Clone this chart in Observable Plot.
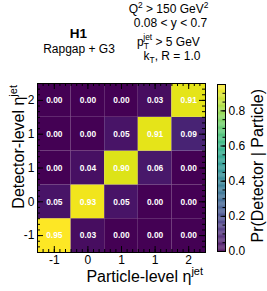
<!DOCTYPE html>
<html><head><meta charset="utf-8">
<script src="https://cdn.jsdelivr.net/npm/d3@7"></script>
<script src="https://cdn.jsdelivr.net/npm/@observablehq/plot@0.6"></script>
<style>
html,body{margin:0;padding:0;background:#fff;}
#wrap{position:relative;width:267px;height:291px;font-family:"Liberation Sans",Arial,Helvetica,sans-serif;}
#wrap svg{position:absolute;left:0;top:0;}
</style></head>
<body><div id="wrap"></div>
<script>
// ---- data ----
const particleLabels = ["-1", "0", "1", "1", "2"];   // x tick labels (particle-level eta bins)
const detectorLabels = ["-1", "0", "1", "1", "2"];   // y tick labels (detector-level eta bins, bottom to top)
// rows: detector bin (bottom -> top), columns: particle bin (left -> right)
const row0 = [0.95, 0.03, 0.00, 0.00, 0.00];
const row1 = [0.05, 0.93, 0.05, 0.00, 0.00];
const row2 = [0.00, 0.04, 0.90, 0.06, 0.00];
const row3 = [0.00, 0.00, 0.05, 0.91, 0.09];
const row4 = [0.00, 0.00, 0.00, 0.03, 0.91];
const colorTicks = [0, 0.2, 0.4, 0.6, 0.8];
const colorMax = 0.95;
const headerLeft = ["H1", "Rapgap + G3"];

// ---- build ----
const rows = [row0, row1, row2, row3, row4];
const cells = rows.flatMap((r, j) => r.map((v, i) => ({px: i, dt: j, v})));
const nx = particleLabels.length, ny = detectorLabels.length;
const xCenters = particleLabels.map((_, i) => i + 0.5);
const yCenters = detectorLabels.map((_, i) => i + 0.5);
const xMinor = d3.range(0, nx * 6 + 1).map(k => k / 6);
const yMinor = d3.range(0, ny * 6 + 1).map(k => k / 6);

const W = 267, H = 291;
const mT = 83, mB = 39, mL = 37, mR = 62;
const iw = W - mL - mR, ih = H - mT - mB;
const font = "Liberation Sans, Arial, Helvetica, sans-serif";
const majorLen = 6, minorLen = 3;

const color = {type: "linear", scheme: "viridis", domain: [0, colorMax]};

const main = Plot.plot({
  width: W, height: H,
  marginTop: mT, marginBottom: mB, marginLeft: mL, marginRight: mR,
  style: {fontFamily: font, fontSize: "12px", background: "white", color: "black"},
  x: {domain: [0, nx]},
  y: {domain: [0, ny]},
  color,
  marks: [
    Plot.rect(cells, {x1: "px", x2: d => d.px + 1, y1: "dt", y2: d => d.dt + 1, fill: "v", inset: 0}),
    Plot.text(cells, {x: d => d.px + 0.5, y: d => d.dt + 0.5, text: d => d.v.toFixed(2),
      fill: "white", fontWeight: "bold", fontSize: 8.4}),
    // ticks inside the frame (all four sides)
    Plot.tickX(xMinor, {x: d => d, insetTop: ih - minorLen, stroke: "black"}),
    Plot.tickX(xMinor, {x: d => d, insetBottom: ih - minorLen, stroke: "black"}),
    Plot.tickX(xCenters, {x: d => d, insetTop: ih - majorLen, stroke: "black"}),
    Plot.tickX(xCenters, {x: d => d, insetBottom: ih - majorLen, stroke: "black"}),
    Plot.tickY(yMinor, {y: d => d, insetRight: iw - minorLen, stroke: "black"}),
    Plot.tickY(yMinor, {y: d => d, insetLeft: iw - minorLen, stroke: "black"}),
    Plot.tickY(yCenters, {y: d => d, insetRight: iw - majorLen, stroke: "black"}),
    Plot.tickY(yCenters, {y: d => d, insetLeft: iw - majorLen, stroke: "black"}),
    Plot.axisX({ticks: xCenters, tickFormat: d => particleLabels[Math.floor(d)], tickSize: 0, tickPadding: 3, label: null, fontSize: 12}),
    Plot.axisY({ticks: yCenters, tickFormat: d => detectorLabels[Math.floor(d)], tickSize: 0, tickPadding: 3, label: null, fontSize: 12}),
    Plot.frame({stroke: "black", strokeWidth: 1})
  ]
});

// colour bar
const cbT = 84, cbB = 40, cbL = 217, cbR = 42;
const cbW = W - cbL - cbR;
const step = colorMax / 190;
const slices = d3.range(0, 190).map(k => ({y1: k * step, y2: (k + 1) * step, v: (k + 0.5) * step}));
const cbMinor = d3.range(0, 20).map(k => k * 0.05).filter(v => v <= colorMax);
const cbar = Plot.plot({
  width: W, height: H,
  marginTop: cbT, marginBottom: cbB, marginLeft: cbL, marginRight: cbR,
  style: {fontFamily: font, fontSize: "12px", background: "none", color: "black"},
  y: {domain: [0, colorMax]},
  color,
  marks: [
    Plot.rect(slices, {y1: "y1", y2: "y2", fill: "v", inset: 0}),
    Plot.tickY(cbMinor, {y: d => d, insetLeft: cbW - 2.5, stroke: "black"}),
    Plot.tickY(colorTicks, {y: d => d, insetLeft: cbW - 4.5, stroke: "black"}),
    Plot.axisY({anchor: "right", ticks: colorTicks, tickFormat: d3.format(".1f"), tickSize: 0, tickPadding: 3, label: null, fontSize: 12}),
    Plot.frame({stroke: "black", strokeWidth: 1})
  ]
});

const wrap = document.getElementById("wrap");
wrap.appendChild(main);
wrap.appendChild(cbar);

// header text and axis titles
const svg = d3.select(main);
const g = svg.append("g").attr("font-family", font).attr("fill", "black");
g.append("text").attr("x", 78.5).attr("y", 38).attr("text-anchor", "middle")
  .attr("font-size", 13.5).attr("font-weight", "bold").text(headerLeft[0]);
g.append("text").attr("x", 79).attr("y", 53).attr("text-anchor", "middle")
  .attr("font-size", 12).text(headerLeft[1]);

// Q^2 > 150 GeV^2
{
  const t = g.append("text").attr("x", 168.5).attr("y", 13).attr("text-anchor", "middle").attr("font-size", 12);
  t.append("tspan").text("Q");
  t.append("tspan").attr("font-size", 8.4).attr("dy", -4.8).text("2");
  t.append("tspan").attr("dy", 4.8).text(" > 150 GeV");
  t.append("tspan").attr("font-size", 8.4).attr("dy", -4.8).text("2");
}
g.append("text").attr("x", 170.5).attr("y", 27).attr("text-anchor", "middle").attr("font-size", 12).text("0.08 < y < 0.7");
// p_T^jet > 5 GeV
{
  const t = g.append("text").attr("x", 168.5).attr("y", 46).attr("text-anchor", "middle").attr("font-size", 12);
  t.append("tspan").text("p");
  t.append("tspan").attr("font-size", 8.4).attr("dy", 2.5).text("T");
  t.append("tspan").attr("font-size", 8.4).attr("dx", -5.6).attr("dy", -9).text("jet");
  t.append("tspan").attr("dy", 6.5).text(" > 5 GeV");
}
// k_T, R = 1.0
{
  const t = g.append("text").attr("x", 172).attr("y", 60).attr("text-anchor", "middle").attr("font-size", 12);
  t.append("tspan").text("k");
  t.append("tspan").attr("font-size", 8.4).attr("dy", 2.5).text("T");
  t.append("tspan").attr("dy", -2.5).text(", R = 1.0");
}
// x axis title
{
  const t = g.append("text").attr("x", 203).attr("y", 282).attr("text-anchor", "end").attr("font-size", 16);
  t.append("tspan").text("Particle-level η");
  t.append("tspan").attr("font-size", 11).attr("dy", -7).text("jet");
}
// y axis title
{
  const t = g.append("text").attr("transform", "translate(24,85) rotate(-90)").attr("text-anchor", "end").attr("font-size", 16);
  t.append("tspan").text("Detector-level η");
  t.append("tspan").attr("font-size", 11).attr("dy", -7).text("jet");
}
// colour bar title
d3.select(cbar).append("text").attr("font-family", font).attr("fill", "black")
  .attr("transform", "translate(263,89) rotate(-90)").attr("text-anchor", "end").attr("font-size", 16)
  .text("Pr(Detector | Particle)");
</script>
</body></html>
